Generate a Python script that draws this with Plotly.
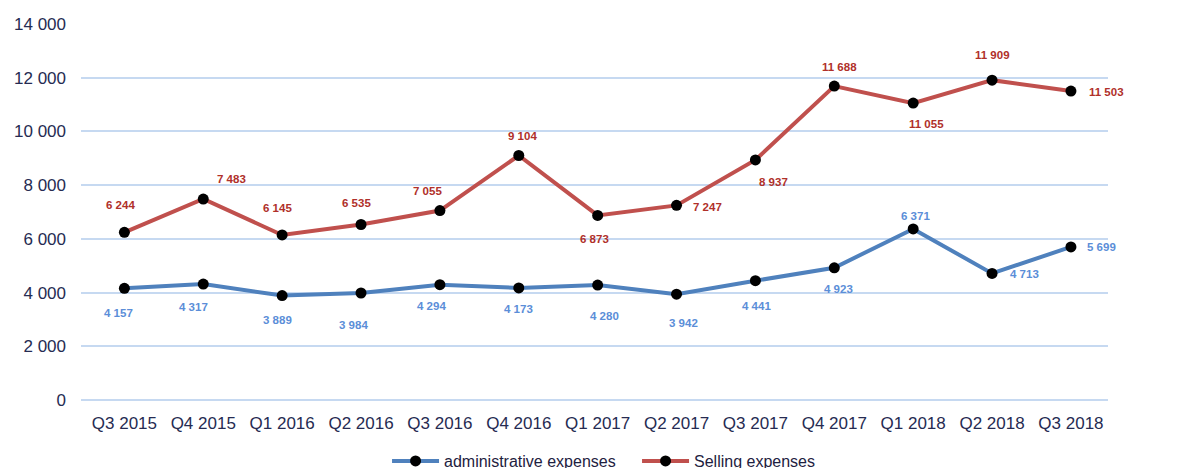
import plotly.graph_objects as go

quarters = ["Q3 2015", "Q4 2015", "Q1 2016", "Q2 2016", "Q3 2016", "Q4 2016", "Q1 2017",
            "Q2 2017", "Q3 2017", "Q4 2017", "Q1 2018", "Q2 2018", "Q3 2018"]
admin = [4157, 4317, 3889, 3984, 4294, 4173, 4280, 3942, 4441, 4923, 6371, 4713, 5699]
selling = [6244, 7483, 6145, 6535, 7055, 9104, 6873, 7247, 8937, 11688, 11055, 11909, 11503]

# label offsets in pixels (dx, dy) - styling only
sell_off = [(-4, 27), (28, 20), (-5, 27), (-5, 21), (-12, 20), (4, 19), (-3, -24), (31, -2),
            (18, -22), (5, 19), (13, -21), (0, 25), (36, -1)]
adm_off = [(-6, -25), (-10, -23), (-5, -24), (-8, -32), (-8, -21), (0, -21), (7, -31), (7, -29),
           (1, -25), (4, -21), (2, 13), (32, -1), (31, 0)]

def fmt(v):
    return f"{v:,}".replace(",", " ")

fig = go.Figure()
fig.add_trace(go.Scatter(x=quarters, y=admin, mode="lines+markers", name="administrative expenses",
                         line=dict(color="#4f81bd", width=4),
                         marker=dict(color="black", size=11)))
fig.add_trace(go.Scatter(x=quarters, y=selling, mode="lines+markers", name="Selling expenses",
                         line=dict(color="#c0504d", width=4),
                         marker=dict(color="black", size=11)))

lbl_font = "Liberation Sans, Arial"
anns = []
for q, v, (dx, dy) in zip(quarters, selling, sell_off):
    anns.append(dict(x=q, y=v, text=f"<b>{fmt(v)}</b>", showarrow=False, xshift=dx, yshift=dy,
                     font=dict(family=lbl_font, size=11.5, color="#b0302a")))
for q, v, (dx, dy) in zip(quarters, admin, adm_off):
    anns.append(dict(x=q, y=v, text=f"<b>{fmt(v)}</b>", showarrow=False, xshift=dx, yshift=dy,
                     font=dict(family=lbl_font, size=11.5, color="#5b8ed8")))

txt = "#262b52"
fig.update_layout(
    width=1197, height=468,
    margin=dict(l=73, r=97, t=16, b=76),
    paper_bgcolor="white", plot_bgcolor="white",
    font=dict(family="Liberation Sans, Arial", size=17, color=txt),
    annotations=anns,
    showlegend=True,
    separators=". ",
    legend=dict(orientation="h", x=0.298, xanchor="left", yref="container",
                y=(468 - 453) / 468, yanchor="middle", entrywidth=188, itemwidth=47,
                font=dict(size=16, color="#1e2140")),
    xaxis=dict(range=[-0.55, 12.47], showgrid=False, showline=False, ticks="",
               automargin=False, ticklabelstandoff=11,
               tickfont=dict(size=17, color=txt)),
    yaxis=dict(range=[0, 14000], dtick=2000, showgrid=True, gridcolor="#c6d9f1", gridwidth=1.5,
               zeroline=True, zerolinecolor="#c6d9f1", zerolinewidth=1.5, showline=False,
               tickformat=",d", automargin=False, ticklabelstandoff=14,
               tickfont=dict(size=17, color=txt)),
)

fig.write_html("out.html")
